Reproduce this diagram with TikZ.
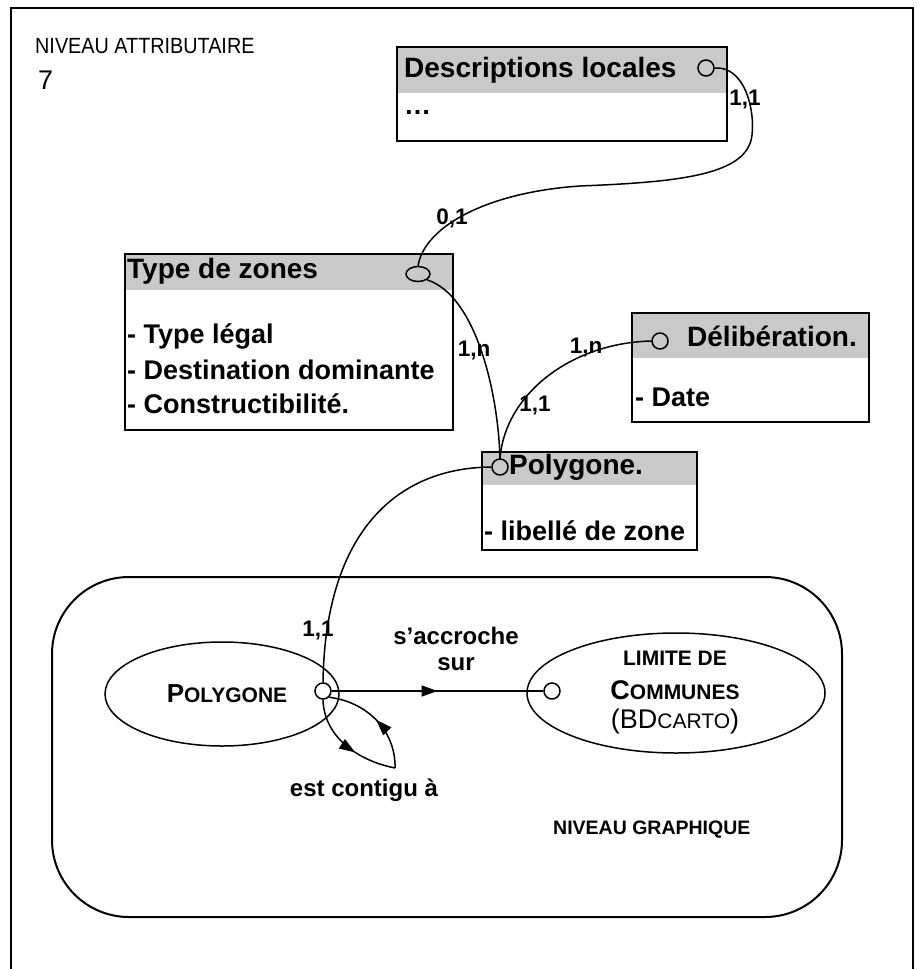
\documentclass[tikz,border=0pt]{standalone}
\usepackage{fontspec}
\setmainfont{Liberation Sans}
\usetikzlibrary{arrows.meta,decorations.markings,shapes.geometric}
\newcommand\bxf{\fontsize{27}{32}\selectfont\bfseries}
\newcommand\hxf{\fontsize{28}{32}\selectfont\bfseries}
\newcommand\lbf{\fontsize{22.5}{26}\selectfont\bfseries}
\tikzset{
  frameline/.style={line width=2.5pt},
  entbox/.style={draw, line width=1.5pt},
  hdr/.style={fill=gray!42},
  txt/.style={inner sep=0pt, anchor=west},
  lbl/.style={inner sep=0pt, font=\lbf},
  dot/.style={circle, draw, line width=1.5pt, minimum size=16pt, inner sep=0pt},
  conn/.style={line width=1.5pt},
  midarrow/.style={decoration={markings, mark=at position #1 with {\arrow{Triangle[length=16pt,width=11pt]}}}, postaction=decorate},
  ell/.style={ellipse, draw, line width=1.5pt, inner sep=0pt},
  ctext/.style={inner sep=0pt}
}
\begin{document}
\begin{tikzpicture}[x=1pt,y=-1pt]
\useasboundingbox (0,0) rectangle (916,969);
\fill[white] (0,0) rectangle (916,969);
% outer frame
\draw[frameline] (11,975) -- (11,8) -- (913,8) -- (913,975);
\node[txt, font=\fontsize{22}{26}\selectfont] (niv) at (35,46) {\scalebox{0.9}[1]{NIVEAU ATTRIBUTAIRE}};
\node[txt, font=\fontsize{27}{30}\selectfont] (seven) at (38,80) {7};

% Descriptions locales
\fill[hdr] (397,47) rectangle (727,93);
\draw[entbox] (397,47) rectangle (727,141);
\node[txt, font=\hxf] (desc) at (404,70) {Descriptions locales};
\node[txt, font=\bxf] (dots) at (404,112) {\dots};
\node[dot] (cD) at (706,68) {};

% Type de zones
\fill[hdr] (125,254) rectangle (453,290);
\draw[entbox] (125,254) rectangle (453,430);
\node[txt, font=\hxf] (type) at (127,271) {Type de zones};
\node[txt, font=\bxf] (t1) at (127,336) {- Type légal};
\node[txt, font=\bxf] (t2) at (127,370) {- Destination dominante};
\node[txt, font=\bxf] (t3) at (127,404) {- Constructibilité.};
\node[ell, minimum width=24pt, minimum height=15pt] (cT) at (418,274) {};

% Deliberation
\fill[hdr] (632,313) rectangle (869,358);
\draw[entbox] (632,313) rectangle (869,422);
\node[txt, font=\hxf] (delib) at (687,336) {Délibération.};
\node[txt, font=\bxf] (date) at (635,397) {- Date};
\node[dot] (cDel) at (660,341) {};

% Polygone box
\fill[hdr] (482,452) rectangle (697,485);
\draw[entbox] (482,452) rectangle (697,550);
\node[txt, font=\hxf] (poly) at (509,467) {Polygone.};
\node[txt, font=\bxf] (lib) at (484,531) {- libellé de zone};
\node[dot] (cPB) at (500,467) {};

% graphic level
\draw[line width=2pt, rounded corners=77pt] (52,577) rectangle (842,917);
\node[ell, minimum width=234pt, minimum height=104pt] (ePoly) at (222,694) {};
\node[ctext, font=\bfseries] (tPoly) at (227,694) {{\fontsize{26}{30}\selectfont P}{\fontsize{21}{25}\selectfont OLYGONE}};
\node[ell, minimum width=298pt, minimum height=120pt] (eLim) at (676,693) {};
\node[ctext, font=\fontsize{21}{25}\selectfont\bfseries] (tLim1) at (675,658) {LIMITE DE};
\node[ctext, font=\bfseries] (tLim2) at (675,690) {{\fontsize{27}{30}\selectfont C}{\fontsize{21}{25}\selectfont OMMUNES}};
\node[ctext] (tLim3) at (675,722) {{\fontsize{27}{30}\selectfont (BD}{\fontsize{21}{25}\selectfont CARTO}{\fontsize{27}{30}\selectfont )}};
\node[dot] (cP) at (323,691) {};
\node[dot] (cL) at (552,691) {};
\coordinate (tip) at (395,768);

\node[txt, font=\fontsize{19.5}{23}\selectfont\bfseries] (ng) at (553,830) {NIVEAU GRAPHIQUE};
\node[ctext, align=center, font=\fontsize{24}{26}\selectfont\bfseries] (acc) at (456,649) {s’accroche\\sur};
\node[ctext, font=\fontsize{24}{28}\selectfont\bfseries] (cont) at (364,790) {est contigu à};

% connectors
\draw[conn] (cD.east) .. controls (745,66) and (755,110) .. (752,135)
  .. controls (748,175) and (680,182) .. (580,186)
  .. controls (490,192) and (425,225) .. (cT.north);
\draw[conn] (cT.south east) .. controls (475,295) and (498,390) .. (cPB.north);
\draw[conn] (cDel.west) .. controls (570,343) and (505,395) .. (cPB.north);
\draw[conn] (cPB.west) .. controls (390,468) and (325,540) .. (cP.north);
\draw[conn, midarrow=0.5] (cP.east) -- (cL.west);
\draw[conn, midarrow=0.6] (cP.south) .. controls (324,735) and (355,760) .. (tip);
\draw[conn, midarrow=0.5] (tip) .. controls (396,735) and (372,703) .. (cP.south east);

% cardinality labels
\node[lbl] (l1) at (745,100) {1,1};
\node[lbl] (l2) at (452,218) {0,1};
\node[lbl] (l3) at (474,350) {1,n};
\node[lbl] (l4) at (586,347) {1,n};
\node[lbl] (l5) at (535,405) {1,1};
\node[lbl] (l6) at (318,630) {1,1};
\end{tikzpicture}
\end{document}
